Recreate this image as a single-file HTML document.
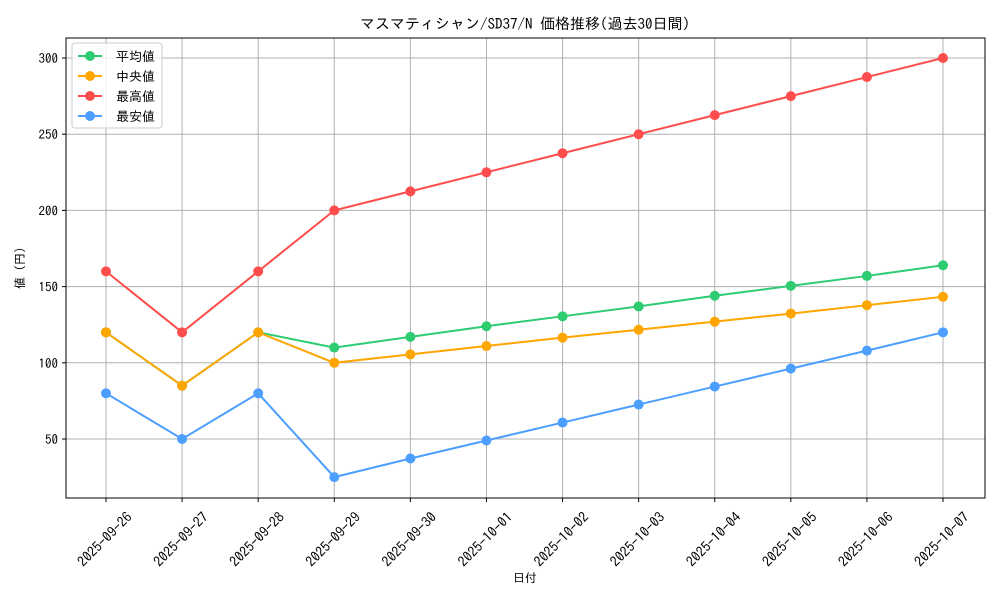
<!DOCTYPE html>
<html><head><meta charset="utf-8"><style>
body{margin:0;background:#fff}
svg{font-family:"IPAGothic","Liberation Sans","Noto Sans CJK JP",sans-serif}
</style></head><body>
<svg id="chart" width="1000" height="600" viewBox="0 0 1000 600" xmlns="http://www.w3.org/2000/svg">
<rect width="1000" height="600" fill="#fff"/>
<text x="525" y="29" text-anchor="middle" font-size="15">マスマティシャン/SD37/N 価格推移(過去30日間)</text>
<g id="grid"></g>
<g id="series"></g>
<rect x="66" y="38" width="919" height="460" fill="none" stroke="#000" stroke-width="1"/>
<g id="axes"></g>
<text x="525" y="582" text-anchor="middle" font-size="12">日付</text>
<text transform="translate(24,268) rotate(-90)" text-anchor="middle" font-size="12">値 (円)</text>
<g id="legend"></g>
</svg>
<script>
const categories=["2025-09-26","2025-09-27","2025-09-28","2025-09-29","2025-09-30","2025-10-01","2025-10-02","2025-10-03","2025-10-04","2025-10-05","2025-10-06","2025-10-07"];
const avgValues=[120,85,120,110,117,124,130.5,137,144,150.5,157,164];
const medianValues=[120,85,120,100,105.5,111,116.5,121.7,127,132.3,137.8,143.3];
const maxValues=[160,120,160,200,212.5,225,237.5,250,262.5,275,287.5,300];
const minValues=[80,50,80,25,37.2,49,60.8,72.6,84.4,96.2,108,120];
const yTicks=[50,100,150,200,250,300];
const seriesNames=["平均値","中央値","最高値","最安値"];
const seriesColors=["#2ecc71","#ffa500","#ff4d4d","#4d9fff"];
const NS="http://www.w3.org/2000/svg";
function xs(i){return 106+i*(943-106)/(categories.length-1);}
function ys(v){return 515.2-v*1.524;}
function mk(tag,attrs,parent){const e=document.createElementNS(NS,tag);for(const k in attrs)e.setAttribute(k,attrs[k]);parent.appendChild(e);return e;}
const grid=document.getElementById('grid'),axes=document.getElementById('axes'),ser=document.getElementById('series'),leg=document.getElementById('legend');
categories.forEach((c,i)=>{
 const x=xs(i);
 const g=mk('line',{x1:x,x2:x,y1:38,y2:498,stroke:'#b0b0b0','stroke-width':1},grid);
 
 
 mk('line',{x1:x,x2:x,y1:498,y2:502,stroke:'#000'},axes);
 const ax=x+27, ay=518;
 const t=mk('text',{x:ax,y:ay,'text-anchor':'end','font-size':14,transform:`rotate(-45 ${ax} ${ay})`},axes);
 t.textContent=c;
 
 
});
yTicks.forEach(v=>{
 const y=ys(v);
 const g=mk('line',{x1:66,x2:985,y1:y,y2:y,stroke:'#b0b0b0','stroke-width':1},grid);
 
 
 mk('line',{x1:62,x2:66,y1:y,y2:y,stroke:'#000'},axes);
 const t=mk('text',{x:58,y:y+5,'text-anchor':'end','font-size':13},axes);
 t.textContent=v;
 
 
});
[avgValues,medianValues,maxValues,minValues].forEach((vals,s)=>{
 const col=seriesColors[s];
 const p=mk('polyline',{points:vals.map((v,i)=>xs(i)+','+ys(v)).join(' '),fill:'none',stroke:col,'stroke-width':2},ser);
 
 
 vals.forEach((v,i)=>{
  const c=mk('circle',{cx:xs(i),cy:ys(v),r:5,fill:col},ser);
  
  
 });
});
const box=mk('rect',{x:72,y:43,width:90,height:85,fill:'#fff','fill-opacity':0.8,stroke:'#ccc',rx:3},leg);


seriesNames.forEach((n,s)=>{
 const y=56+s*20;
 const g=mk('g',{},leg);
 
 
 mk('line',{x1:78,x2:102,y1:y,y2:y,stroke:seriesColors[s],'stroke-width':2},g);
 mk('circle',{cx:90,cy:y,r:5,fill:seriesColors[s]},g);
 const t=mk('text',{x:116,y:y+5,'font-size':13},g);
 t.textContent=n;
});
</script>
</body></html>
